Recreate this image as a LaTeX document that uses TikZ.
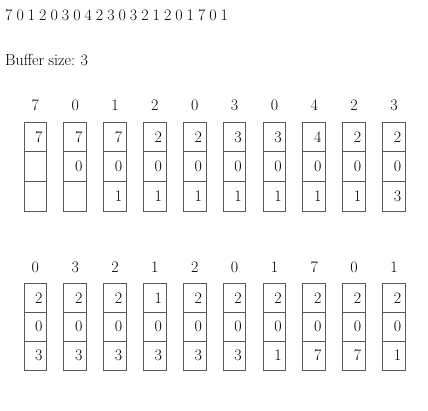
\documentclass[tikz,border=0pt]{standalone}
\begin{document}
\begin{tikzpicture}[x=1pt,y=1pt,
  txt/.style={inner sep=0pt, font=\fontsize{16}{19}\selectfont, text=black},
  cellbox/.style={draw=black!65, line width=1pt, minimum width=22.7pt, minimum height=#1, inner sep=0pt},
  val/.style={txt, anchor=east, xshift=-4.5pt}
]
\useasboundingbox (0,0) rectangle (428,-410);
\node[txt, anchor=base west] (seq) at (5,-20) {\spaceskip=4pt\relax 7 0 1 2 0 3 0 4 2 3 0 3 2 1 2 0 1 7 0 1};
\node[txt, anchor=base west] (buf) at (5,-65) {\spaceskip=4pt\relax Buffer size: 3};
% group 1
\foreach \r/\a/\b/\c [count=\i from 0] in {7/7/{}/{}, 0/7/0/{}, 1/7/0/1, 2/2/0/1, 0/2/0/1, 3/3/0/1, 0/3/0/1, 4/4/0/1, 2/2/0/1, 3/2/0/3} {
  \pgfmathsetmacro\cx{35.35+39.85*\i}
  \node[txt] (ra\i) at (\cx,-105.5) {\r};
  \node[cellbox=29.6pt] (ca\i x) at (\cx,-137.1) {};
  \node[cellbox=29.6pt] (cb\i x) at (\cx,-166.7) {};
  \node[cellbox=29.6pt] (cc\i x) at (\cx,-196.3) {};
  \node[val] (va\i) at (ca\i x.east) {\a};
  \node[val] (vb\i) at (cb\i x.east) {\b};
  \node[val] (vc\i) at (cc\i x.east) {\c};
}
% group 2
\foreach \r/\a/\b/\c [count=\i from 0] in {0/2/0/3, 3/2/0/3, 2/2/0/3, 1/1/0/3, 2/2/0/3, 0/2/0/3, 1/2/0/1, 7/2/0/7, 0/2/0/7, 1/2/0/1} {
  \pgfmathsetmacro\cx{35.35+39.85*\i}
  \node[txt] (rb\i) at (\cx,-267) {\r};
  \node[cellbox=28.9pt] (da\i x) at (\cx,-297.75) {};
  \node[cellbox=28.9pt] (db\i x) at (\cx,-326.65) {};
  \node[cellbox=28.9pt] (dc\i x) at (\cx,-355.55) {};
  \node[val] (wa\i) at (da\i x.east) {\a};
  \node[val] (wb\i) at (db\i x.east) {\b};
  \node[val] (wc\i) at (dc\i x.east) {\c};
}
\end{tikzpicture}
\end{document}
